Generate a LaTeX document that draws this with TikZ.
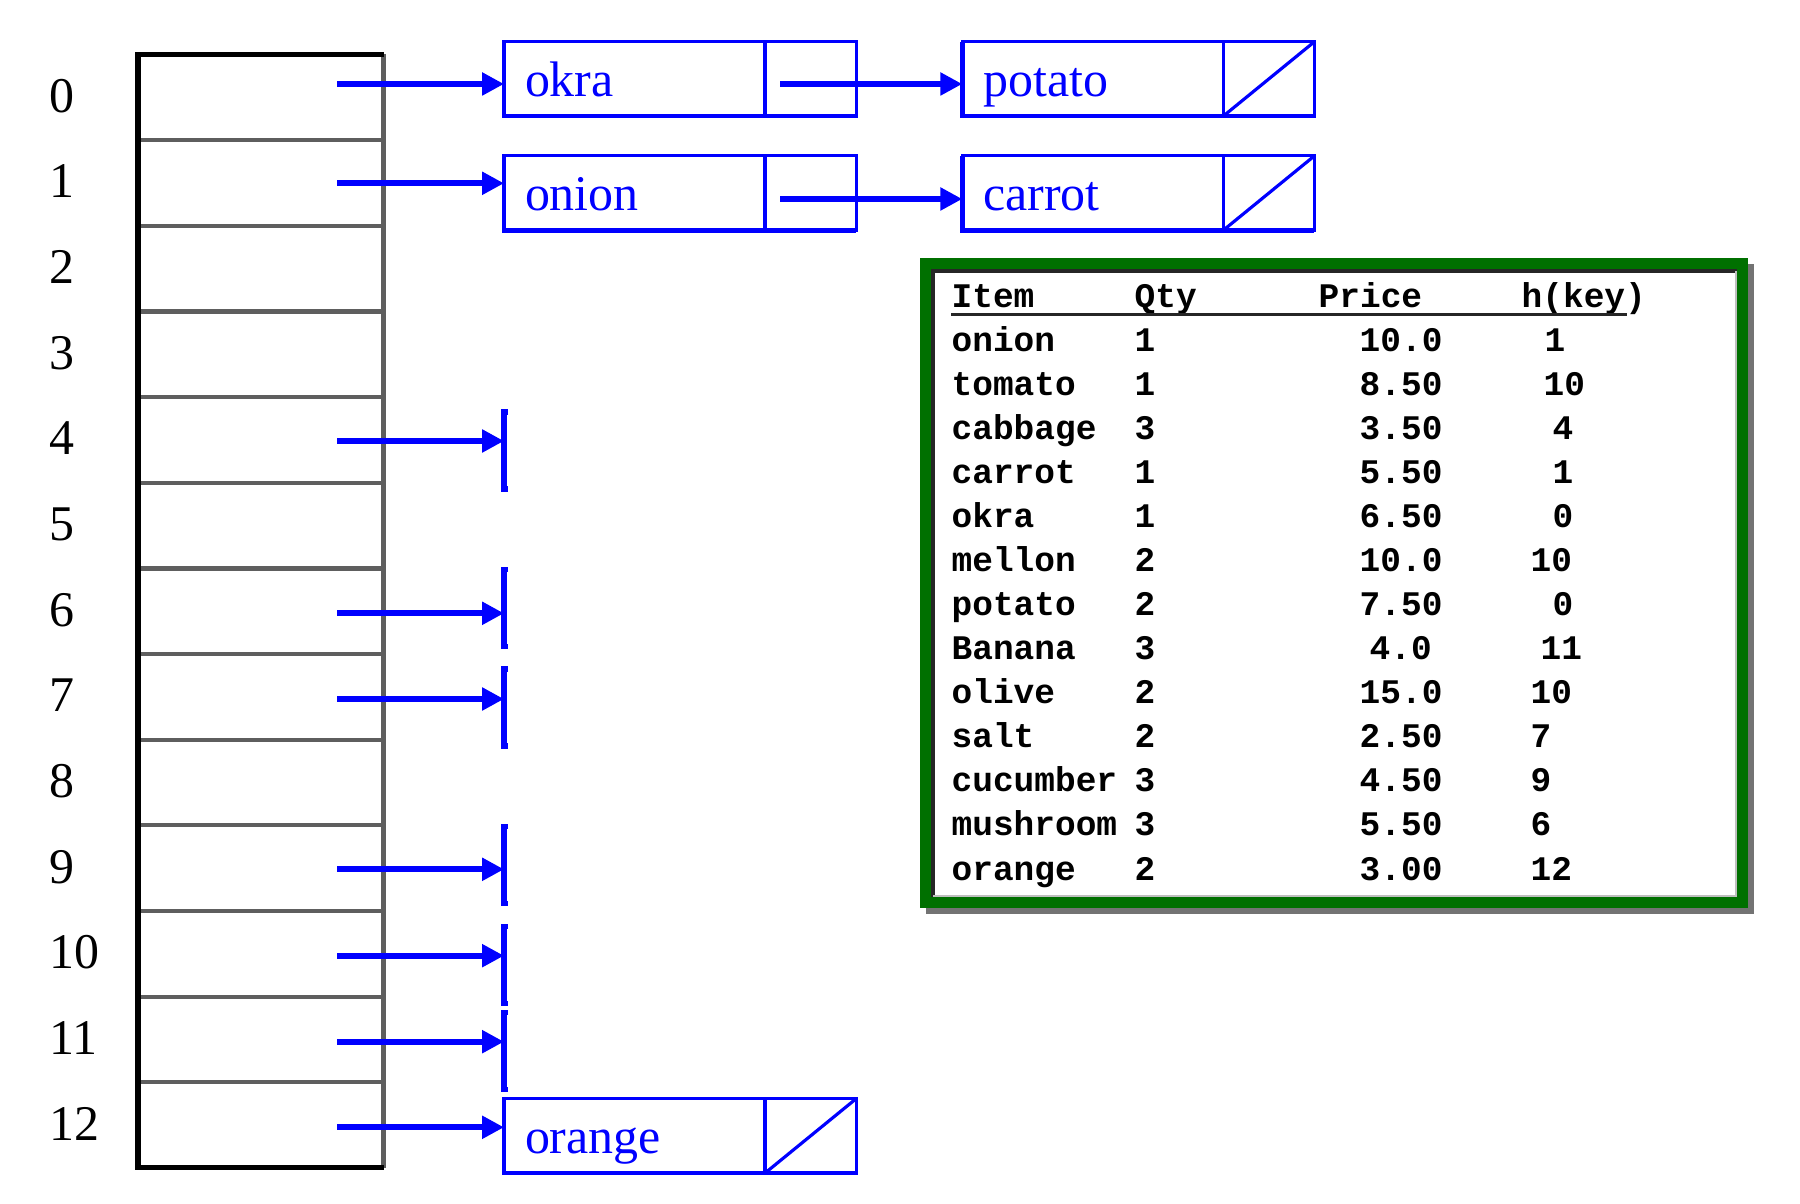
\documentclass[tikz,border=0pt]{standalone}
\usepackage{fontspec}
\setmainfont{Liberation Serif}
\newfontfamily\tablefont{Liberation Mono}
\usetikzlibrary{arrows.meta,positioning,calc}
\definecolor{ptr}{HTML}{0000FF}
\definecolor{frame}{HTML}{007000}
\definecolor{slotgray}{HTML}{5E5E5E}
\tikzset{
  slotframe/.style={draw=black, line width=1.6pt},
  slotline/.style={draw=slotgray, line width=1.2pt},
  idx/.style={anchor=base west, inner sep=0pt, font=\fontsize{14.2}{16}\selectfont},
  keybox/.style={draw=ptr, line width=0.95pt, minimum width=2.61cm, minimum height=0.743cm,
    inner xsep=0.21cm, inner ysep=0pt, outer sep=0pt, text width=2.19cm, align=left,
    text height=10.1pt, text depth=0pt, text=ptr, font=\fontsize{14.2}{16}\selectfont, anchor=west},
  nextbox/.style={draw=ptr, line width=0.95pt, minimum width=0.91cm, minimum height=0.743cm,
    inner sep=0pt, outer sep=0pt},
  boxbase/.style={draw=ptr, line width=1.35pt},
  link/.style={draw=ptr, line width=1.8pt, -{Triangle[length=6.2pt, width=6.2pt]}},
  nilbar/.style={draw=ptr, line width=1.45pt},
  nilslash/.style={draw=ptr, line width=0.9pt},
  cell/.style={anchor=base west, inner sep=0pt, font=\tablefont\bfseries\fontsize{9.8}{11}\selectfont},
  rule/.style={draw=black!85, line width=0.9pt}
}
\begin{document}
\begin{tikzpicture}[x=0.01cm, y=-0.01cm]
  \useasboundingbox (0,0) rectangle (1800,1204);

  % hash table slots
  \foreach \i in {1,...,12}
    \draw[slotline] (137.8,{54.5+85.65*\i}) -- (383.5,{54.5+85.65*\i});
  \draw[slotline] (383.5,54.5) -- (383.5,1167.5);
  \draw[slotframe] (383.5,54.5) -- (137.8,54.5) -- (137.8,1167.5) -- (383.5,1167.5);
  \foreach \i in {0,...,12}
    \node[idx] (idx\i) at (49,{54.5+85.65*(\i+0.5)+15}) {\i};

  % chain nodes
  \node[keybox] (okra) at (504,78.85) {okra};
  \node[nextbox, right=0pt of okra] (okra-next) {};
  \node[keybox, right=1.06cm of okra-next] (potato) {potato};
  \node[nextbox, right=0pt of potato] (potato-next) {};
  \node[keybox] (onion) at (504,193) {onion};
  \node[nextbox, right=0pt of onion] (onion-next) {};
  \node[keybox, right=1.06cm of onion-next] (carrot) {carrot};
  \node[nextbox, right=0pt of carrot] (carrot-next) {};
  \node[keybox] (orange) at (504,1135.8) {orange};
  \node[nextbox, right=0pt of orange] (orange-next) {};

  \foreach \n in {okra,potato,onion,carrot,orange}
    \draw[boxbase] (\n.north west) -- (\n.south west) -- (\n-next.south east);
  \foreach \n in {potato,carrot,orange}
    \draw[nilslash] (\n-next.south west) -- (\n-next.north east);

  % slot pointers
  \foreach \i/\y in {0/84,1/183.3,4/441,6/613.3,7/699,9/869.3,10/955.7,11/1041.7,12/1127.3}
    \coordinate (s\i) at (337,\y);
  \draw[link] (s0) -- (s0 -| okra.west);
  \draw[link] (s1) -- (s1 -| onion.west);
  \draw[link] (s12) -- (s12 -| orange.west);
  \coordinate (okra-out) at (780,84);
  \coordinate (onion-out) at (780,199);
  \draw[link] (okra-out) -- (okra-out -| potato.west);
  \draw[link] (onion-out) -- (onion-out -| carrot.west);

  % empty chains
  \foreach \i/\t in {4/29,6/44,7/30,9/43,10/29,11/29}{
    \coordinate (nil\i) at (s\i -| okra.west);
    \draw[link] (s\i) -- (nil\i);
    \draw[nilbar] ($(nil\i)+(4,-\t)$) -- ($(nil\i)+(0,-\t)$) -- ($(nil\i)+(0,77-\t)$) -- ($(nil\i)+(4,77-\t)$);
  }

  % item table
  \fill[black, opacity=0.55] (926,264) rectangle (1754,914);
  \fill[frame] (920,258.3) rectangle (1748.3,908.3);
  \fill[white] (931,269.3) rectangle (1737.3,897.3);
  \draw[black!85, line width=1.1pt] (933,897.3) -- (933,271) -- (1737.3,271);
  \draw[black!25, line width=0.6pt] (933,896) -- (1736,896) -- (1736,271);

  \node[cell] (hItem) at (951,308) {Item};
  \node[cell] (hQty) at (1134,308) {Qty};
  \node[cell] (hPrice) at (1318,308) {Price};
  \node[cell] (hKey) at (1521,308) {h(key)};
  \draw[rule] (951,314.5) -- (1627,314.5);

  \foreach \name/\qty/\price/\px/\h/\hx [count=\k] in {
      onion/1/10.0/1359/1/1544, tomato/1/8.50/1359/10/1543, cabbage/3/3.50/1359/4/1552,
      carrot/1/5.50/1359/1/1552, okra/1/6.50/1359/0/1552, mellon/2/10.0/1359/10/1530,
      potato/2/7.50/1359/0/1552, Banana/3/4.0/1369/11/1540, olive/2/15.0/1359/10/1530,
      salt/2/2.50/1359/7/1530, cucumber/3/4.50/1359/9/1530, mushroom/3/5.50/1359/6/1530,
      orange/2/3.00/1359/12/1530}{
    \node[cell] (item\k) at (951,{308+44*\k}) {\name};
    \node[cell] (qty\k) at (1134,{308+44*\k}) {\qty};
    \node[cell] (price\k) at (\px,{308+44*\k}) {\price};
    \node[cell] (h\k) at (\hx,{308+44*\k}) {\h};
  }
\end{tikzpicture}
\end{document}
